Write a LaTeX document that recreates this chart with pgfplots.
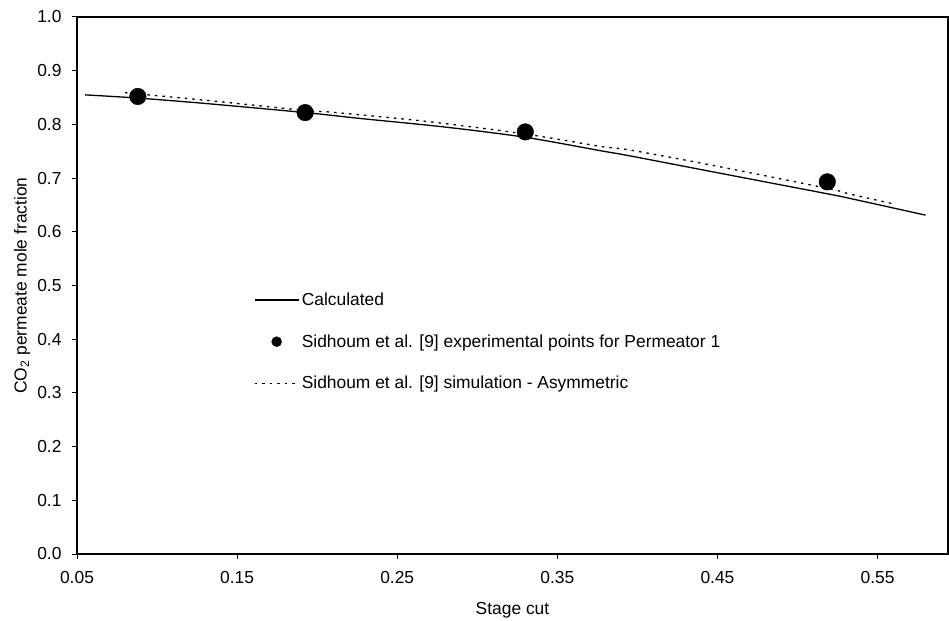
\documentclass[border=0pt]{standalone}
\usepackage{fontspec}
\setmainfont{Liberation Sans}
\usepackage{pgfplots}
\pgfplotsset{compat=1.18}
\usetikzlibrary{calc}
\pgfplotsset{
  mylegline/.style={legend image code/.code={\draw[##1] (0bp,0bp) -- (44bp,0bp);}},
  mylegdot/.style={legend image code/.code={\fill[black] (22bp,0bp) circle (5bp);}},
}

\begin{document}
\begin{tikzpicture}[font=\fontsize{17.4bp}{20.5bp}\selectfont]
\begin{axis}[name=ax, scale only axis, width=871bp, height=537bp,
  xmin=0.05, xmax=0.594, ymin=0, ymax=1,
  xtick={0.05,0.15,0.25,0.35,0.45,0.55},
  ytick={0,0.1,0.2,0.3,0.4,0.5,0.6,0.7,0.8,0.9,1.0},
  xticklabel style={yshift=-9bp, /pgf/number format/.cd,fixed,fixed zerofill,precision=2,assume math mode=true},
  yticklabel style={xshift=-7bp, /pgf/number format/.cd,fixed,fixed zerofill,precision=1,assume math mode=true},
  scaled ticks=false,
  tick align=outside, tick pos=left, major tick length=5bp,
  axis line style={line width=1.5bp, black},
  tick style={line width=1bp, black},
  xlabel={Stage cut},
  ylabel={CO\textsubscript{2} permeate mole fraction},
  xlabel style={at={(axis description cs:0.5,-0.1043)}, anchor=center},
  ylabel style={at={(axis description cs:-0.0631,0.5)}, anchor=center},
  legend style={at={(axis description cs:0.203,0.491)}, anchor=north west, draw=none, fill=none, row sep=22.5bp, inner sep=0pt, nodes={inner sep=2.5bp}},
  legend cell align=left,
  clip=false,
]
\addplot[black, line width=1.3bp, smooth, mylegline] table {
0.055 0.855
0.088 0.849
0.13 0.839
0.1925 0.822
0.227 0.811
0.28 0.795
0.33 0.776
0.377 0.751
0.396 0.741
0.45 0.710
0.52 0.670
0.533 0.662
0.58 0.631
};
\addlegendentry{Calculated}
\addplot[only marks, mark=*, mark size=8.3bp, black, fill=black, mylegdot] table {
0.088 0.852
0.1925 0.822
0.33 0.786
0.5186 0.693
};
\addlegendentry{Sidhoum et al. [9] experimental points for Permeator 1}
\addplot[black, line width=1.3bp, dash pattern=on 2.5bp off 5bp, smooth, mylegline] table {
0.08 0.859
0.13 0.845
0.1925 0.826
0.21 0.8225
0.27 0.805
0.33 0.782
0.377 0.759
0.396 0.752
0.45 0.722
0.52 0.680
0.533 0.670
0.56 0.652
};
\addlegendentry{Sidhoum et al. [9] simulation - Asymmetric}
\end{axis}
\pgfresetboundingbox
\path[use as bounding box] ($(ax.south west)+(-77bp,-67bp)$) rectangle ($(ax.north east)+(1bp,17bp)$);
\end{tikzpicture}
\end{document}
